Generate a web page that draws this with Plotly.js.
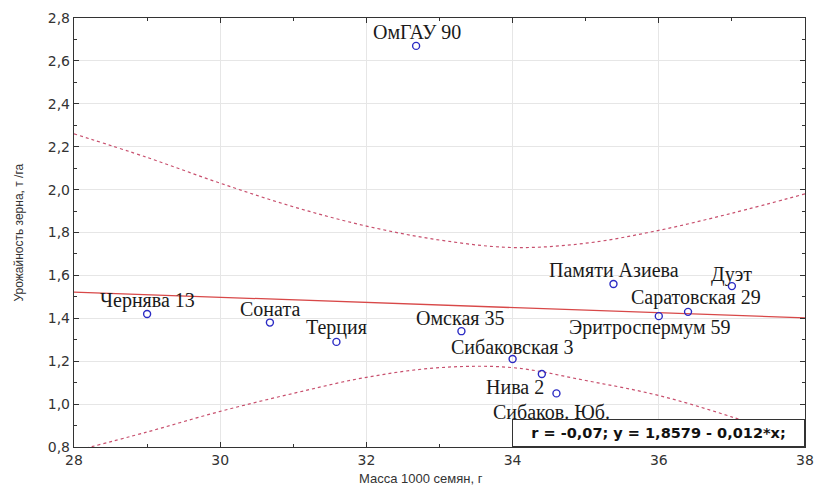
<!DOCTYPE html>
<html>
<head>
<meta charset="utf-8">
<script src="https://cdn.plot.ly/plotly-3.0.1.min.js"></script>
<style>html,body{margin:0;padding:0;background:#fff;}#chart{width:814px;height:496px;}</style>
</head>
<body>
<div id="chart"></div>
<script>
// Data
const varieties = ["Чернява 13","Соната","Терция","ОмГАУ 90","Омская 35","Сибаковская 3","Нива 2","Сибаков. Юб.","Памяти Азиева","Дуэт","Саратовская 29","Эритроспермум 59"];
const seedMass  = [29.0, 30.68, 31.59, 32.68, 33.3, 34.0, 34.4, 34.6, 35.38, 37.0, 36.4, 36.0];
const grainYield = [1.42, 1.38, 1.29, 2.67, 1.34, 1.21, 1.14, 1.05, 1.56, 1.55, 1.43, 1.41];

// Regression line endpoints (y = 1.8579 - 0.012*x), read at x = 28 and 38
const regX = [28, 38];
const regY = [1.522, 1.402];

// 95% confidence band
const bandX     = [28, 29, 30, 31, 32, 33, 34, 35, 36, 37, 38];
const bandUpper = [2.26, 2.15, 2.03, 1.92, 1.83, 1.765, 1.73, 1.75, 1.81, 1.89, 1.98];
const bandLower = [0.78, 0.87, 0.966, 1.05, 1.125, 1.17, 1.17, 1.11, 1.04, 0.94, 0.82];

const xTicks = [28, 30, 32, 34, 36, 38];
const yTicks = [0.8, 1.0, 1.2, 1.4, 1.6, 1.8, 2.0, 2.2, 2.4, 2.6, 2.8];

const equationText = "r = -0,07; y = 1,8579 - 0,012*x;";
const xTitle = "Масса 1000 семян, г";
const yTitle = "Урожайность зерна, т /га";

// Label offsets in pixels (style only)
const labelShift = {
  "Чернява 13": [0, 14], "Соната": [0, 14], "Терция": [0, 14], "ОмГАУ 90": [1, 14],
  "Омская 35": [-1, 13], "Сибаковская 3": [0, 12], "Нива 2": [-27, -13],
  "Сибаков. Юб.": [-5, -19], "Памяти Азиева": [1, 14], "Дуэт": [0, 12],
  "Саратовская 29": [8, 14], "Эритроспермум 59": [-9, -11]
};

const bandStyle = {color: '#c8506e', width: 1.2, dash: '3px,3px', shape: 'spline'};

const traces = [
  {x: bandX, y: bandUpper, mode: 'lines', line: bandStyle, hoverinfo: 'skip'},
  {x: bandX, y: bandLower, mode: 'lines', line: bandStyle, hoverinfo: 'skip'},
  {x: regX, y: regY, mode: 'lines', line: {color: '#d84848', width: 1.3}, hoverinfo: 'skip'},
  {x: seedMass, y: grainYield, mode: 'markers', text: varieties,
   marker: {symbol: 'circle-open', size: 7, color: '#2b2bc4', line: {width: 1.4, color: '#2b2bc4'}}}
];

const annotations = varieties.map((name, i) => ({
  x: seedMass[i], y: grainYield[i], xref: 'x', yref: 'y', text: name, showarrow: false,
  xshift: labelShift[name][0], yshift: labelShift[name][1],
  font: {family: 'Liberation Serif, Times New Roman, serif', size: 20, color: '#1a1a1a'}
}));

annotations.push({
  xref: 'paper', yref: 'paper', x: 1, y: 0, xanchor: 'right', yanchor: 'bottom',
  text: '<b>' + equationText + '</b>', showarrow: false, align: 'center',
  bgcolor: '#ffffff', bordercolor: '#333', borderwidth: 1, borderpad: 4,
  width: 283, height: 18,
  font: {family: 'DejaVu Sans, sans-serif', size: 14.5, color: '#111'}
});
annotations.push({
  xref: 'paper', yref: 'paper', x: 0.475, y: 0, yanchor: 'middle', yshift: -31,
  text: xTitle, showarrow: false,
  font: {family: 'Liberation Sans, Arial, sans-serif', size: 13, color: '#333'}
});
annotations.push({
  xref: 'paper', yref: 'paper', x: -0.0766, y: 0.5, xanchor: 'center', yanchor: 'middle',
  text: yTitle, showarrow: false, textangle: -90,
  font: {family: 'Liberation Sans, Arial, sans-serif', size: 12, color: '#333'}
});

const axisCommon = {
  showline: true, linecolor: '#333', linewidth: 1.2, mirror: 'allticks',
  ticks: 'inside', ticklen: 5, tickcolor: '#333', tickwidth: 1,
  showgrid: true, gridcolor: '#e6e6e6', gridwidth: 1, zeroline: false,
  tickfont: {family: 'DejaVu Sans, sans-serif', size: 14, color: '#333'}
};

const layout = {
  width: 814, height: 496,
  margin: {l: 74, r: 9, t: 18, b: 49},
  paper_bgcolor: '#fff', plot_bgcolor: '#fff',
  showlegend: false, separators: ',.',
  xaxis: Object.assign({}, axisCommon, {
    range: [28, 38], tickmode: 'array', tickvals: xTicks, ticktext: xTicks.map(String),
    minor: {dtick: 1, ticks: 'inside', ticklen: 3, tickcolor: '#333', showgrid: false}
  }),
  yaxis: Object.assign({}, axisCommon, {
    range: [0.8, 2.8], tickmode: 'array', tickvals: yTicks, tickformat: '.1f',
    ticksuffix: '\u00a0',
    minor: {dtick: 0.1, ticks: 'inside', ticklen: 3, tickcolor: '#333', showgrid: false}
  }),
  annotations: annotations
};

Plotly.newPlot('chart', traces, layout, {displayModeBar: false, staticPlot: true});
</script>
</body>
</html>
